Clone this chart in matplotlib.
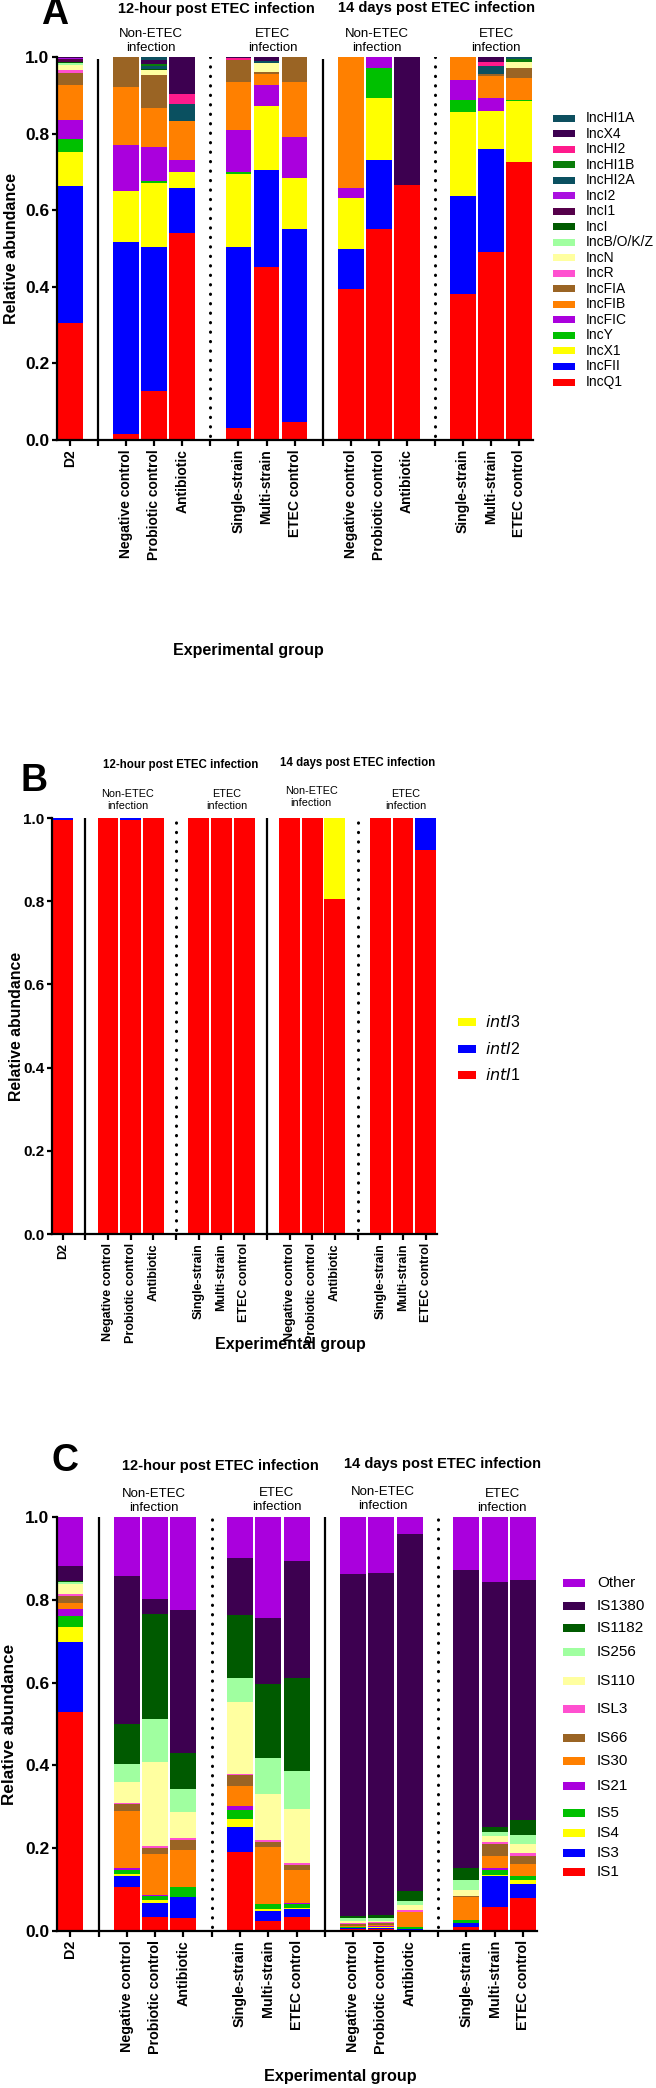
import numpy as np
import matplotlib
matplotlib.use("Agg")
import matplotlib.pyplot as plt
from matplotlib import font_manager
from matplotlib.patches import Rectangle

_names = {f.name for f in font_manager.fontManager.ttflist}
SANS = "Liberation Sans" if "Liberation Sans" in _names else "DejaVu Sans"
plt.rcParams["font.family"] = SANS

# ---- groups / positions ----
groups = ["D2", "Negative control", "Probiotic control", "Antibiotic",
          "Single-strain", "Multi-strain", "ETEC control",
          "Negative control", "Probiotic control", "Antibiotic",
          "Single-strain", "Multi-strain", "ETEC control"]
x_pos = [0, 2, 3, 4, 6, 7, 8, 10, 11, 12, 14, 15, 16]
solid_seps = [1, 9]
dotted_seps = [5, 13]

# ---- panel A: plasmid replicons (bottom -> top) ----
inc_names = ["IncQ1", "IncFII", "IncX1", "IncY", "IncFIC", "IncFIB", "IncFIA", "IncR",
             "IncN", "IncB/O/K/Z", "IncI", "IncI1", "IncI2", "IncHI2A", "IncHI1B",
             "IncHI2", "IncX4", "IncHI1A"]
inc_colors = ["#FF0000", "#0000FF", "#FFFF00", "#00C000", "#AA00DD", "#FF8000", "#9A6424",
              "#FF50D0", "#FFFFA0", "#A0FFA0", "#005A00", "#55004A", "#AA10E0", "#0A5060",
              "#0A7D0A", "#FF1A8C", "#3D0050", "#0D4F5F"]
incQ1 = [0.306, 0.016, 0.127, 0.540, 0.031, 0.452, 0.046, 0.394, 0.551, 0.666, 0.382, 0.490, 0.725]
incFII = [0.358, 0.502, 0.376, 0.119, 0.472, 0.252, 0.504, 0.105, 0.179, 0, 0.256, 0.269, 0]
incX1 = [0.087, 0.131, 0.169, 0.042, 0.192, 0.167, 0.135, 0.132, 0.164, 0, 0.218, 0.099, 0.160]
incY = [0.035, 0, 0.003, 0, 0.004, 0, 0, 0, 0.076, 0, 0.031, 0, 0.002]
incFIC = [0.049, 0.121, 0.089, 0.029, 0.110, 0.056, 0.105, 0.026, 0.030, 0, 0.052, 0.035, 0]
incFIB = [0.093, 0.151, 0.104, 0.102, 0.127, 0.028, 0.145, 0.343, 0, 0, 0.061, 0.058, 0.058]
incFIA = [0.030, 0.079, 0.086, 0, 0.056, 0.007, 0.065, 0, 0, 0, 0, 0.005, 0.026]
incR = [0.009, 0, 0, 0, 0, 0, 0, 0, 0, 0, 0, 0, 0]
incN = [0.013, 0, 0.011, 0, 0, 0.023, 0, 0, 0, 0, 0, 0, 0.015]
incBOKZ = [0.004, 0, 0, 0, 0, 0, 0, 0, 0, 0, 0, 0, 0]
incI = [0.004, 0, 0.004, 0, 0, 0, 0, 0, 0, 0, 0, 0, 0]
incI1 = [0.006, 0, 0, 0, 0, 0, 0, 0, 0, 0, 0, 0, 0]
incI2 = [0.003, 0, 0, 0, 0, 0, 0, 0, 0, 0, 0, 0, 0]
incHI2A = [0, 0, 0.008, 0.045, 0, 0.004, 0, 0, 0, 0, 0, 0.021, 0]
incHI1B = [0, 0, 0.005, 0, 0, 0, 0, 0, 0, 0, 0, 0, 0.010]
incHI2 = [0, 0, 0, 0.027, 0.005, 0, 0, 0, 0, 0, 0, 0.009, 0]
incX4 = [0.003, 0, 0.011, 0.096, 0.003, 0.011, 0, 0, 0, 0.334, 0, 0.014, 0]
incHI1A = [0, 0, 0.007, 0, 0, 0, 0, 0, 0, 0, 0, 0, 0.004]
inc_values = [incQ1, incFII, incX1, incY, incFIC, incFIB, incFIA, incR, incN, incBOKZ,
              incI, incI1, incI2, incHI2A, incHI1B, incHI2, incX4, incHI1A]

# ---- panel B: integrases ----
int_names = [r"$\it{intI}$1", r"$\it{intI}$2", r"$\it{intI}$3"]
int_colors = ["#FF0000", "#0000FF", "#FFFF00"]
intI1 = [0.994, 1, 0.996, 1, 1, 1, 1, 1, 1, 0.806, 1, 1, 0.924]
intI2 = [0.006, 0, 0.004, 0, 0, 0, 0, 0, 0, 0, 0, 0, 0.076]
intI3 = [0, 0, 0, 0, 0, 0, 0, 0, 0, 0.194, 0, 0, 0]
int_values = [intI1, intI2, intI3]

# ---- panel C: insertion sequences (bottom -> top) ----
is_names = ["IS1", "IS3", "IS4", "IS5", "IS21", "IS30", "IS66", "ISL3", "IS110",
            "IS256", "IS1182", "IS1380", "Other"]
is_colors = ["#FF0000", "#0000FF", "#FFFF00", "#00C000", "#AA00DD", "#FF8000", "#9A6424",
             "#FF50D0", "#FFFFA0", "#A0FFA0", "#005A00", "#3D0050", "#AA00DD"]
IS1 = [0.530, 0.107, 0.033, 0.031, 0.190, 0.025, 0.033, 0.005, 0.005, 0.002, 0.009, 0.057, 0.079]
IS3 = [0.167, 0.027, 0.034, 0.050, 0.062, 0.024, 0.020, 0.003, 0.003, 0.002, 0.010, 0.076, 0.035]
IS4 = [0.037, 0.004, 0.008, 0.001, 0.019, 0.003, 0.003, 0.000, 0.001, 0.000, 0.000, 0.002, 0.009]
IS5 = [0.027, 0.010, 0.010, 0.025, 0.021, 0.013, 0.009, 0.001, 0.001, 0.005, 0.008, 0.013, 0.010]
IS21 = [0.016, 0.004, 0.002, 0.000, 0.009, 0.000, 0.002, 0.001, 0.001, 0.000, 0.000, 0.004, 0.001]
IS30 = [0.015, 0.138, 0.099, 0.089, 0.050, 0.139, 0.081, 0.003, 0.004, 0.038, 0.054, 0.028, 0.028]
IS66 = [0.018, 0.016, 0.014, 0.024, 0.026, 0.012, 0.012, 0.005, 0.005, 0.000, 0.004, 0.030, 0.020]
ISL3 = [0.004, 0.004, 0.006, 0.004, 0.003, 0.004, 0.005, 0.001, 0.001, 0.004, 0.000, 0.004, 0.006]
IS110 = [0.024, 0.050, 0.202, 0.064, 0.172, 0.112, 0.129, 0.004, 0.003, 0.012, 0.014, 0.015, 0.022]
IS256 = [0.005, 0.043, 0.104, 0.055, 0.060, 0.086, 0.092, 0.008, 0.008, 0.010, 0.024, 0.009, 0.022]
IS1182 = [0.003, 0.097, 0.253, 0.087, 0.151, 0.179, 0.226, 0.005, 0.006, 0.024, 0.030, 0.014, 0.036]
IS1380 = [0.036, 0.358, 0.038, 0.345, 0.137, 0.159, 0.282, 0.827, 0.827, 0.861, 0.720, 0.592, 0.579]
Other = [0.118, 0.142, 0.197, 0.225, 0.100, 0.244, 0.106, 0.137, 0.135, 0.042, 0.127, 0.156, 0.153]
is_values = [IS1, IS3, IS4, IS5, IS21, IS30, IS66, ISL3, IS110, IS256, IS1182, IS1380, Other]

W, H = 656, 2088
fig = plt.figure(figsize=(W / 100, H / 100), dpi=100)


def px_axes(left, right, top, bottom):
    return fig.add_axes([left / W, 1 - bottom / H, (right - left) / W, (bottom - top) / H])


def ftext(x, y, s, **kw):
    kw.setdefault("ha", "center")
    kw.setdefault("va", "center")
    fig.text(x / W, 1 - y / H, s, **kw)


def stacked(ax, values, colors, solid_top, xfs, yfs):
    bottom = np.zeros(len(x_pos))
    for vals, c in zip(values, colors):
        vals = np.array(vals, dtype=float)
        ax.bar(x_pos, vals, width=0.92, bottom=bottom, color=c, edgecolor="none")
        bottom += vals
    for s in solid_seps:
        ax.plot([s, s], [0, solid_top], color="black", lw=1.6, solid_capstyle="butt")
    for s in dotted_seps:
        ax.plot([s, s], [0.01, 1.0], color="black", lw=2.2, ls=(0, (0.1, 3.0)),
                dash_capstyle="round")
    ax.set_xlim(-0.47, 16.5)
    ax.set_ylim(0, 1.0)
    ticks = sorted(x_pos + solid_seps + dotted_seps)
    labels = [groups[x_pos.index(t)] if t in x_pos else "" for t in ticks]
    ax.set_xticks(ticks)
    ax.set_xticklabels(labels, rotation=90, fontsize=xfs, fontweight="bold")
    ax.set_yticks([0, 0.2, 0.4, 0.6, 0.8, 1.0])
    ax.set_yticklabels(["0.0", "0.2", "0.4", "0.6", "0.8", "1.0"], fontsize=yfs,
                       fontweight="bold")
    for sp in ["top", "right"]:
        ax.spines[sp].set_visible(False)
    for sp in ["left", "bottom"]:
        ax.spines[sp].set_linewidth(1.6)
    ax.tick_params(axis="x", length=4.5, width=1.6, pad=2)
    ax.tick_params(axis="y", length=3.5, width=1.6, pad=2)


def legend(names, colors, px0, px1, tx, ys, ph, fs):
    for n, c, y in zip(names, colors, ys):
        fig.patches.append(Rectangle((px0 / W, 1 - (y + ph / 2) / H), (px1 - px0) / W, ph / H,
                                     transform=fig.transFigure, facecolor=c,
                                     edgecolor="none"))
        ftext(tx, y, n, ha="left", fontsize=fs)


# ================= Panel A =================
axA = px_axes(57, 533, 57, 440)
stacked(axA, inc_values, inc_colors, 0.995, 10, 12.5)
ftext(55, 14, "A", fontsize=27, fontweight="bold")
ftext(216, 9, "12-hour post ETEC infection", fontsize=10.5, fontweight="bold")
ftext(436, 8, "14 days post ETEC infection", fontsize=10.5, fontweight="bold")
for x, t in [(151, "Non-ETEC\ninfection"), (273, "ETEC\ninfection"),
             (377, "Non-ETEC\ninfection"), (496, "ETEC\ninfection")]:
    ftext(x, 41, t, fontsize=9.5, linespacing=1.15)
ftext(12, 248, "Relative abundance", rotation=90, fontsize=11.5, fontweight="bold")
ftext(248, 651, "Experimental group", fontsize=11.5, fontweight="bold")
yA = list(np.linspace(382, 118, len(inc_names)))
legend(inc_names, inc_colors, 553, 575, 586, yA, 7, 10)

# ================= Panel B =================
axB = px_axes(52, 437, 818, 1234)
stacked(axB, int_values, int_colors, 1.0, 9, 11)
ftext(34, 781, "B", fontsize=27, fontweight="bold")
ftext(181, 765, "12-hour post ETEC infection", fontsize=8.3, fontweight="bold")
ftext(358, 763, "14 days post ETEC infection", fontsize=8.3, fontweight="bold")
for x, y, t in [(128, 800, "Non-ETEC\ninfection"), (227, 800, "ETEC\ninfection"),
                (311, 797, "Non-ETEC\ninfection"), (406, 800, "ETEC\ninfection")]:
    ftext(x, y, t, fontsize=7.8, linespacing=1.2)
ftext(17, 1026, "Relative abundance", rotation=90, fontsize=11.4, fontweight="bold")
ftext(290, 1344, "Experimental group", fontsize=11.5, fontweight="bold")
legend(int_names, int_colors, 458, 476, 485, [1075, 1049, 1022], 8, 11.5)

# ================= Panel C =================
axC = px_axes(57, 537, 1517, 1931)
stacked(axC, is_values, is_colors, 1.0, 10.3, 12.5)
ftext(65, 1461, "C", fontsize=27, fontweight="bold")
ftext(220, 1466, "12-hour post ETEC infection", fontsize=10.5, fontweight="bold")
ftext(442, 1464, "14 days post ETEC infection", fontsize=10.5, fontweight="bold")
for x, y, t in [(154, 1501, "Non-ETEC\ninfection"), (277, 1500, "ETEC\ninfection"),
                (383, 1499, "Non-ETEC\ninfection"), (502, 1501, "ETEC\ninfection")]:
    ftext(x, y, t, fontsize=9.5, linespacing=1.15)
ftext(10, 1724, "Relative abundance", rotation=90, fontsize=12.3, fontweight="bold")
ftext(340, 2076, "Experimental group", fontsize=11.7, fontweight="bold")
yC = [1872, 1853, 1833, 1813, 1786, 1761, 1738, 1709, 1681, 1652, 1628, 1606, 1583]
legend(is_names, is_colors, 563, 585, 597, yC, 8, 11)

fig.savefig("out.png", dpi=100)
